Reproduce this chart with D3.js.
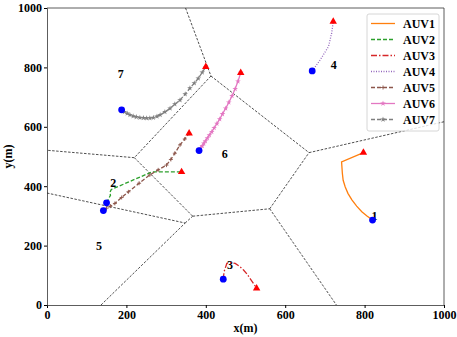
<!DOCTYPE html>
<html>
<head>
<meta charset="utf-8">
<script src="https://cdn.jsdelivr.net/npm/d3@7"></script>
<style>
  body { margin: 0; background: #fff; }
  svg text { font-family: 'Liberation Serif', 'Times New Roman', serif; font-weight: bold; }
</style>
</head>
<body>
<svg id="chart" width="457" height="337"></svg>
<script>
// voronoi cell borders, [x1, y1, x2, y2] in metres
const edges = [
    [349, 1000, 413, 771],
    [413, 771, 220, 496],
    [413, 771, 660, 513],
    [220, 496, 0, 521],
    [220, 496, 367, 299],
    [0, 377, 348, 276],
    [136, 0, 348, 276],
    [348, 276, 367, 299],
    [367, 299, 561, 324],
    [561, 324, 660, 513],
    [561, 324, 729, 0],
    [660, 513, 1000, 617]
]

const regionLabels = ['1', '2', '3', '4', '5', '6', '7']
const regionX = [825, 167, 461, 722, 131, 448, 186]
const regionY = [300, 412, 135, 808, 198, 510, 780]

const names = ['AUV1', 'AUV2', 'AUV3', 'AUV4', 'AUV5', 'AUV6', 'AUV7']

// paths, first point = current position (blue), last point = target (red)
const auv1 = [[820, 286], [806, 300], [793, 314], [780, 333], [768, 354], [758, 376], [751, 398], [746, 420], [744, 443], [742, 482], [797, 513]]
const auv2 = [[150, 344], [160, 370], [158, 378], [162, 389], [264, 448], [339, 448]]
const auv3 = [[444, 87], [446, 112], [453, 140], [464, 143], [474, 140], [485, 130], [495, 118], [504, 104], [511, 90], [520, 73], [528, 56]]
const auv4 = [[668, 788], [688, 825], [709, 870], [717, 915], [721, 954]]
const auv5 = [[142, 318], [150, 326], [160, 333], [171, 342], [188, 362], [205, 381], [232, 410], [259, 438], [280, 455], [301, 471], [312, 490], [322, 511], [335, 539], [347, 559], [358, 578]]
const auv6 = [[383, 520], [387, 528], [391, 536], [395, 544], [399, 552], [404, 562], [409, 572], [415, 583], [421, 596], [428, 611], [435, 626], [442, 643], [450, 662], [458, 682], [466, 704], [474, 728], [481, 753], [488, 782]]
const auv7 = [[188, 657], [195, 650], [202, 645], [209, 640], [217, 636], [225, 633], [234, 631], [243, 630], [251, 629], [259, 629], [268, 631], [277, 635], [285, 640], [297, 650], [310, 662], [322, 676], [335, 690], [348, 710], [360, 730], [371, 747], [381, 763], [391, 783], [400, 802]]

const xTicks = [0, 200, 400, 600, 800, 1000]
const yTicks = [0, 200, 400, 600, 800, 1000]

const paths = [auv1, auv2, auv3, auv4, auv5, auv6, auv7]
const colors = ['#ff7f0e', '#2ca02c', '#d62728', '#9467bd', '#8c564b', '#e377c2', '#7f7f7f']
const dashes = [null, '4,2', '6,2,1.5,2', '1,1.5', '4,2', null, '4,2']
const markers = [null, null, null, null, 'plus', 'star', 'star']

const svg = d3.select('#chart')
const x = d3.scaleLinear().domain([0, 1000]).range([47, 444])
const y = d3.scaleLinear().domain([0, 1000]).range([305, 8])

svg.append('g')
    .attr('transform', `translate(0,${y(0)})`)
    .call(d3.axisBottom(x).tickValues(xTicks).tickFormat(d3.format('d')).tickSize(3).tickPadding(2))
    .call(g => g.selectAll('text').attr('font-size', 12).attr('fill', '#000'))

svg.append('g')
    .attr('transform', `translate(${x(0)},0)`)
    .call(d3.axisLeft(y).tickValues(yTicks).tickFormat(d3.format('d')).tickSize(3).tickPadding(2))
    .call(g => g.selectAll('text').attr('font-size', 12).attr('fill', '#000'))

svg.selectAll('.domain').attr('stroke', '#333').attr('stroke-width', 0.8)

// top and right frame
svg.append('path')
    .attr('d', `M${x(0)},${y(1000)}H${x(1000)}V${y(0)}`)
    .attr('fill', 'none')
    .attr('stroke', '#333')
    .attr('stroke-width', 0.8)

svg.append('text')
    .attr('x', (x(0) + x(1000)) / 2)
    .attr('y', 332)
    .attr('text-anchor', 'middle')
    .attr('font-size', 12)
    .text('x(m)')

svg.append('text')
    .attr('transform', `translate(12,${(y(0) + y(1000)) / 2}) rotate(-90)`)
    .attr('text-anchor', 'middle')
    .attr('font-size', 12)
    .text('y(m)')

svg.append('g')
    .selectAll('line')
    .data(edges)
    .join('line')
    .attr('x1', d => x(d[0]))
    .attr('y1', d => y(d[1]))
    .attr('x2', d => x(d[2]))
    .attr('y2', d => y(d[3]))
    .attr('stroke', '#222')
    .attr('stroke-width', 0.8)
    .attr('stroke-dasharray', '2.5,1.5')

svg.append('g')
    .selectAll('text')
    .data(regionLabels)
    .join('text')
    .attr('x', (d, i) => x(regionX[i]))
    .attr('y', (d, i) => y(regionY[i]))
    .attr('text-anchor', 'middle')
    .attr('dy', '0.35em')
    .attr('font-size', 12)
    .text(d => d)

const lineLinear = d3.line().x(d => x(d[0])).y(d => y(d[1]))

function drawMarker(g, kind, color, size) {
    if (kind === 'plus') {
        g.append('path')
            .attr('d', `M${-size},0H${size}M0,${-size}V${size}`)
            .attr('stroke', color)
            .attr('stroke-width', 0.9)
    } else if (kind === 'star') {
        g.append('path')
            .attr('d', d3.symbol(d3.symbolStar, size * size * 2.2)())
            .attr('fill', color)
    }
}

paths.forEach((p, i) => {
    svg.append('path')
        .attr('d', lineLinear(p))
        .attr('fill', 'none')
        .attr('stroke', colors[i])
        .attr('stroke-width', 1.3)
        .attr('stroke-dasharray', dashes[i])
    if (markers[i]) {
        p.forEach(pt => {
            const g = svg.append('g').attr('transform', `translate(${x(pt[0])},${y(pt[1])})`)
            drawMarker(g, markers[i], colors[i], markers[i] === 'plus' ? 2 : 2.1)
        })
    }
})

// targets and current positions
svg.append('g')
    .selectAll('path')
    .data(paths)
    .join('path')
    .attr('transform', d => `translate(${x(d[d.length - 1][0])},${y(d[d.length - 1][1])})`)
    .attr('d', d3.symbol(d3.symbolTriangle, 24)())
    .attr('fill', '#ff0000')

svg.append('g')
    .selectAll('circle')
    .data(paths)
    .join('circle')
    .attr('cx', d => x(d[0][0]))
    .attr('cy', d => y(d[0][1]))
    .attr('r', 3.4)
    .attr('fill', '#0000ff')

// legend
const legend = svg.append('g')
legend.append('rect')
    .attr('x', 367)
    .attr('y', 14)
    .attr('width', 72)
    .attr('height', 117)
    .attr('rx', 2)
    .attr('fill', '#fff')
    .attr('fill-opacity', 0.8)
    .attr('stroke', '#ccc')
    .attr('stroke-width', 0.8)

names.forEach((name, i) => {
    const ly = 23.5 + i * 16
    legend.append('line')
        .attr('x1', 371)
        .attr('x2', 395)
        .attr('y1', ly)
        .attr('y2', ly)
        .attr('stroke', colors[i])
        .attr('stroke-width', 1.3)
        .attr('stroke-dasharray', dashes[i])
    if (markers[i]) {
        const g = legend.append('g').attr('transform', `translate(383,${ly})`)
        drawMarker(g, markers[i], colors[i], markers[i] === 'plus' ? 2 : 2.1)
    }
    legend.append('text')
        .attr('x', 403)
        .attr('y', ly)
        .attr('dy', '0.35em')
        .attr('font-size', 12)
        .text(name)
})
</script>
</body>
</html>
